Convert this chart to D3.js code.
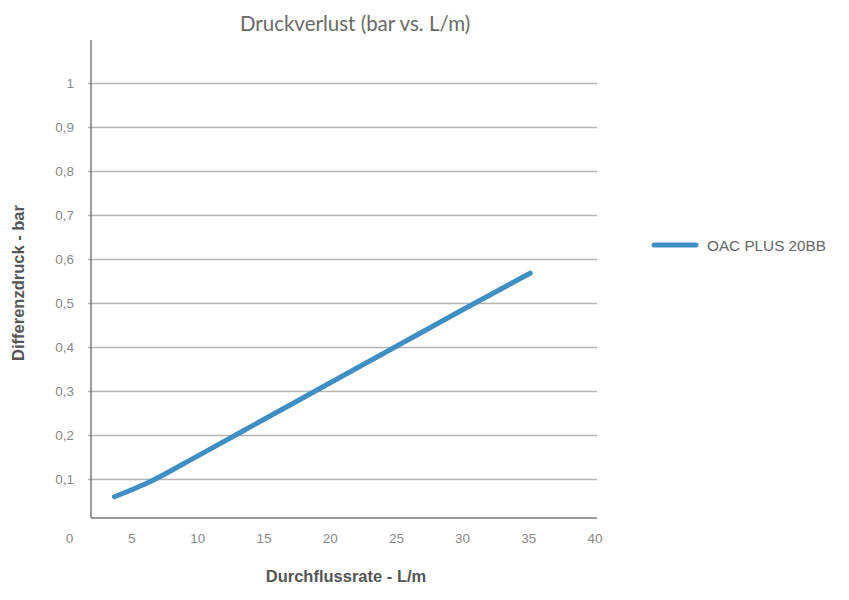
<!DOCTYPE html>
<html>
<head>
<meta charset="utf-8">
<script src="https://cdn.jsdelivr.net/npm/d3@7"></script>
<style>
  body { margin: 0; background: #fff; }
  svg { display: block; }
</style>
</head>
<body>
<div id="chart"></div>
<script>
// data
const flow = [3.7, 6.5, 10, 15, 20, 25, 30, 35.1];
const pressure = [0.059, 0.095, 0.152, 0.235, 0.318, 0.401, 0.484, 0.567];
const xTicks = [0, 5, 10, 15, 20, 25, 30, 35, 40];
const yTicks = [0.1, 0.2, 0.3, 0.4, 0.5, 0.6, 0.7, 0.8, 0.9, 1];
const seriesName = "OAC PLUS 20BB";

const width = 849, height = 600;
const plot = {left: 91, right: 597, top: 40, bottom: 518};

let svg = d3.select("#chart").append("svg")
    .attr("width", width).attr("height", height);

let x = d3.scaleLinear()
    .domain([0, 40])
    .range([65.5, 595]);

let y = d3.scaleLinear()
    .domain([0, 1])
    .range([522.7, 82.7]);

// gridlines
svg.append("g")
    .selectAll("line")
    .data(yTicks)
    .join("line")
    .attr("x1", plot.left - 3)
    .attr("x2", plot.right)
    .attr("y1", d => Math.round(y(d)) + 0.5)
    .attr("y2", d => Math.round(y(d)) + 0.5)
    .attr("stroke", "#b4b4b4")
    .attr("stroke-width", 1.3);

// axis lines
svg.append("line")
    .attr("x1", plot.left).attr("x2", plot.left)
    .attr("y1", plot.top).attr("y2", plot.bottom)
    .attr("stroke", "#7a7a7a").attr("stroke-width", 1.5);
svg.append("line")
    .attr("x1", plot.left).attr("x2", plot.right)
    .attr("y1", plot.bottom).attr("y2", plot.bottom)
    .attr("stroke", "#7a7a7a").attr("stroke-width", 1.5);

// y tick labels
svg.append("g")
    .selectAll("text")
    .data(yTicks)
    .join("text")
    .attr("x", 74)
    .attr("y", d => y(d) + 5)
    .attr("text-anchor", "end")
    .attr("font-family", "Liberation Sans, Arial, sans-serif")
    .attr("font-size", 13.5)
    .attr("fill", "#8a8a8a")
    .text(d => d3.format(".1~f")(d).replace(".", ","));

// x tick labels
svg.append("g")
    .selectAll("text")
    .data(xTicks)
    .join("text")
    .attr("x", d => d === 0 ? x(d) + 4 : x(d))
    .attr("y", 543)
    .attr("text-anchor", "middle")
    .attr("font-family", "Liberation Sans, Arial, sans-serif")
    .attr("font-size", 13.5)
    .attr("fill", "#8a8a8a")
    .text(d => d);

// the series
let line = d3.line()
    .x((d, i) => x(flow[i]))
    .y(d => y(d))
    .curve(d3.curveMonotoneX);

svg.append("path")
    .attr("d", line(pressure))
    .attr("fill", "none")
    .attr("stroke", "#3f8ec4")
    .attr("stroke-width", 5)
    .attr("stroke-linecap", "round")
    .attr("stroke-linejoin", "round");

// title
svg.append("text")
    .attr("x", 355)
    .attr("y", 31)
    .attr("text-anchor", "middle")
    .attr("font-family", "Lato, sans-serif")
    .attr("font-size", 20.5)
    .attr("fill", "#6a6a6a")
    .text("Druckverlust (bar vs. L/m)");

// axis titles
svg.append("text")
    .attr("x", 346)
    .attr("y", 582)
    .attr("text-anchor", "middle")
    .attr("font-family", "Liberation Sans, Arial, sans-serif")
    .attr("font-size", 16.5)
    .attr("font-weight", "bold")
    .attr("fill", "#555")
    .text("Durchflussrate - L/m");

svg.append("text")
    .attr("transform", "translate(24, 283) rotate(-90)")
    .attr("text-anchor", "middle")
    .attr("font-family", "Liberation Sans, Arial, sans-serif")
    .attr("font-size", 16.5)
    .attr("font-weight", "bold")
    .attr("fill", "#555")
    .text("Differenzdruck - bar");

// legend
let legend = svg.append("g").attr("transform", "translate(654, 245)");
legend.append("line")
    .attr("x1", 0).attr("x2", 42)
    .attr("y1", 0).attr("y2", 0)
    .attr("stroke", "#3f8ec4")
    .attr("stroke-width", 5)
    .attr("stroke-linecap", "round");
legend.append("text")
    .attr("x", 53)
    .attr("y", 5.5)
    .attr("font-family", "Liberation Sans, Arial, sans-serif")
    .attr("font-size", 15.3)
    .attr("fill", "#666")
    .text(seriesName);
</script>
</body>
</html>
